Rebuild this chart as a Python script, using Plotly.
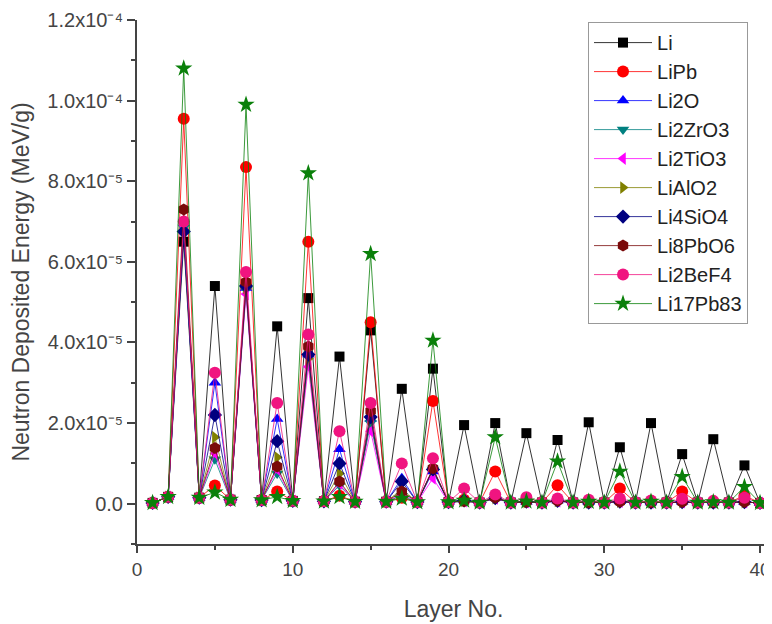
import plotly.graph_objects as go

layers = list(range(1, 41))

# values in units of 1e-6 MeV/g, layers 1..40
li = [0.2, 1.7, 65.0, 1.5, 54.0, 1.0, 54.5, 0.9, 44.0, 0.7,
      51.0, 0.6, 36.5, 0.5, 43.0, 0.5, 28.5, 0.4, 33.5, 0.4,
      19.5, 0.3, 20.0, 0.3, 17.5, 0.3, 15.8, 0.3, 20.2, 0.3,
      14.0, 0.3, 20.0, 0.3, 12.3, 0.3, 16.0, 0.3, 9.5, 0.2]
lipb = [0.2, 1.7, 95.5, 1.5, 4.5, 1.0, 83.5, 0.9, 3.0, 0.7,
        65.0, 0.6, 2.0, 0.5, 45.0, 0.5, 1.5, 0.4, 25.5, 0.4,
        1.0, 0.3, 8.0, 0.3, 0.8, 0.3, 4.6, 0.3, 0.7, 0.3,
        3.8, 0.3, 0.6, 0.3, 3.0, 0.3, 0.5, 0.3, 2.0, 0.2]
li2o = [0.2, 1.7, 68.0, 1.5, 30.0, 1.0, 53.5, 0.9, 21.0, 0.7,
        37.0, 0.6, 13.5, 0.5, 21.0, 0.5, 6.3, 0.4, 8.0, 0.4,
        1.0, 0.3, 1.5, 0.3, 0.5, 0.3, 0.8, 0.3, 0.4, 0.3,
        0.6, 0.3, 0.3, 0.3, 0.5, 0.3, 0.3, 0.3, 0.4, 0.2]
li2zro3 = [0.2, 1.7, 68.5, 1.5, 11.0, 1.0, 53.0, 0.9, 7.5, 0.7,
           36.5, 0.6, 4.5, 0.5, 20.0, 0.5, 2.0, 0.4, 8.5, 0.4,
           0.5, 0.3, 1.2, 0.3, 0.4, 0.3, 0.6, 0.3, 0.3, 0.3,
           0.5, 0.3, 0.3, 0.3, 0.4, 0.3, 0.3, 0.3, 0.4, 0.2]
li2tio3 = [0.2, 1.7, 69.0, 1.5, 12.5, 1.0, 52.0, 0.9, 8.5, 0.7,
           34.0, 0.6, 5.0, 0.5, 18.0, 0.5, 2.5, 0.4, 6.3, 0.4,
           0.6, 0.3, 1.3, 0.3, 0.4, 0.3, 0.6, 0.3, 0.3, 0.3,
           0.5, 0.3, 0.3, 0.3, 0.4, 0.3, 0.3, 0.3, 0.4, 0.2]
lialo2 = [0.2, 1.7, 69.5, 1.5, 16.5, 1.0, 53.5, 0.9, 11.5, 0.7,
          36.0, 0.6, 7.5, 0.5, 21.0, 0.5, 3.5, 0.4, 8.5, 0.4,
          0.7, 0.3, 1.4, 0.3, 0.4, 0.3, 0.7, 0.3, 0.3, 0.3,
          0.5, 0.3, 0.3, 0.3, 0.4, 0.3, 0.3, 0.3, 0.4, 0.2]
li4sio4 = [0.2, 1.7, 67.5, 1.5, 22.0, 1.0, 54.0, 0.9, 15.5, 0.7,
           37.0, 0.6, 10.0, 0.5, 21.5, 0.5, 5.5, 0.4, 8.5, 0.4,
           0.8, 0.3, 1.4, 0.3, 0.5, 0.3, 0.7, 0.3, 0.3, 0.3,
           0.5, 0.3, 0.3, 0.3, 0.4, 0.3, 0.3, 0.3, 0.4, 0.2]
li8pbo6 = [0.2, 1.7, 73.0, 1.5, 13.8, 1.0, 55.0, 0.9, 9.2, 0.7,
           39.0, 0.6, 5.5, 0.5, 23.0, 0.5, 3.0, 0.4, 8.8, 0.4,
           0.6, 0.3, 1.5, 0.3, 0.4, 0.3, 0.7, 0.3, 0.3, 0.3,
           0.5, 0.3, 0.3, 0.3, 0.4, 0.3, 0.3, 0.3, 0.4, 0.2]
li2bef4 = [0.2, 1.7, 70.0, 1.5, 32.5, 1.0, 57.5, 0.9, 25.0, 0.7,
           42.0, 0.6, 18.0, 0.5, 25.0, 0.5, 10.0, 0.4, 11.3, 0.4,
           3.8, 0.3, 2.3, 0.3, 1.6, 0.3, 1.3, 0.3, 1.0, 0.3,
           1.3, 0.3, 0.8, 0.3, 1.2, 0.3, 0.7, 0.3, 1.5, 0.2]
li17pb83 = [0.2, 1.7, 108.0, 1.5, 2.8, 1.0, 99.0, 0.9, 1.7, 0.7,
            82.0, 0.6, 1.7, 0.5, 62.0, 0.5, 1.3, 0.4, 40.5, 0.4,
            0.8, 0.3, 16.5, 0.3, 0.6, 0.3, 10.5, 0.3, 0.5, 0.3,
            8.0, 0.3, 0.5, 0.3, 6.7, 0.3, 0.4, 0.3, 4.2, 0.2]

series_names = ["Li", "LiPb", "Li2O", "Li2ZrO3", "Li2TiO3", "LiAlO2",
                "Li4SiO4", "Li8PbO6", "Li2BeF4", "Li17Pb83"]
series_values = [li, lipb, li2o, li2zro3, li2tio3, lialo2,
                 li4sio4, li8pbo6, li2bef4, li17pb83]
colors = ["#000000", "#FF0000", "#0000FF", "#008080", "#FF00FF", "#808000",
          "#000080", "#7A0A0A", "#F01480", "#0A800A"]
symbols = ["square", "circle", "triangle-up", "triangle-down", "triangle-left",
           "triangle-right", "diamond", "hexagon", "circle", "star"]
sizes = [10, 12, 11, 11, 11, 11, 11, 12, 12, 13]

y_tickvals = [0, 2e-5, 4e-5, 6e-5, 8e-5, 1.0e-4, 1.2e-4]
y_ticktext = ["0.0", "2.0x10⁻⁵", "4.0x10⁻⁵", "6.0x10⁻⁵",
              "8.0x10⁻⁵", "1.0x10⁻⁴", "1.2x10⁻⁴"]
y_minor = [-1e-5, 1e-5, 3e-5, 5e-5, 7e-5, 9e-5, 1.1e-4]
x_tickvals = [0, 10, 20, 30, 40]
x_minor = [5, 15, 25, 35]

FONT = "Liberation Sans, Arial, sans-serif"

fig = go.Figure()
for name, vals, c, s, sz in zip(series_names, series_values, colors, symbols, sizes):
    fig.add_trace(go.Scatter(
        x=layers, y=[v * 1e-6 for v in vals], name=name, mode="lines+markers",
        line=dict(color=c, width=0.8),
        marker=dict(symbol=s, size=sz, color=c, line=dict(width=0)),
    ))

fig.update_layout(
    width=764, height=616,
    margin=dict(l=129, r=2, t=12, b=80, autoexpand=False),
    plot_bgcolor="white", paper_bgcolor="white",
    font=dict(family=FONT, color="#333333"),
    showlegend=True,
    legend=dict(
        x=0.7125, y=0.996, xanchor="left", yanchor="top",
        bgcolor="white", bordercolor="#999999", borderwidth=1,
        font=dict(size=20, family=FONT, color="#222222"),
        itemwidth=58,
    ),
    xaxis=dict(
        range=[0, 40.64], tickmode="array", tickvals=x_tickvals,
        ticks="outside", ticklen=7, tickwidth=1.5, tickcolor="#444444",
        minor=dict(tickvals=x_minor, ticks="outside", ticklen=4, tickwidth=1.5, tickcolor="#444444"),
        showline=True, linewidth=2, linecolor="#444444",
        showgrid=False, zeroline=False, automargin=False,
        ticklabeloverflow="allow",
        tickfont=dict(size=19, color="#444444"),
        title=dict(text="Layer No.", font=dict(size=23, color="#444444"), standoff=22),
    ),
    yaxis=dict(
        range=[-1e-5, 1.2e-4], tickmode="array", tickvals=y_tickvals, ticktext=y_ticktext,
        ticks="outside", ticklen=8, tickwidth=1.5, tickcolor="#444444",
        minor=dict(tickvals=y_minor, ticks="outside", ticklen=4, tickwidth=1.5, tickcolor="#444444"),
        showline=True, linewidth=2, linecolor="#444444",
        showgrid=False, zeroline=False, automargin=False,
        ticklabeloverflow="allow",
        tickfont=dict(size=20, color="#444444"),
        title=dict(text="Neutron Deposited Energy (MeV/g)", font=dict(size=23, color="#444444"), standoff=12),
    ),
)

fig.write_html("out.html")
